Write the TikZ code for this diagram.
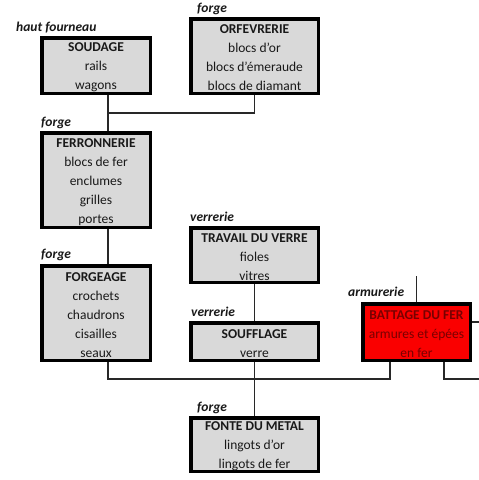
\documentclass[tikz,border=0pt]{standalone}
\usepackage{fontspec}
\setmainfont{Carlito}
\definecolor{boxgray}{RGB}{217,217,217}
\definecolor{txt}{RGB}{25,25,25}
\definecolor{redfill}{RGB}{250,0,0}
\definecolor{redtxt}{RGB}{120,0,0}
\definecolor{linec}{RGB}{40,40,40}
\newcommand{\ttl}[1]{\rule{0pt}{13pt}\textbf{#1}}
\begin{document}
\begin{tikzpicture}[x=1pt,y=-1pt,
  card/.style={draw=black, line width=3.5pt, fill=boxgray, align=center, inner sep=0pt,
    text=txt, font=\fontsize{13.5}{19}\selectfont},
  redcard/.style={card, fill=redfill, text=redtxt},
  tag/.style={anchor=base west, inner sep=0pt, text=txt, font=\fontsize{13.5}{16}\selectfont\bfseries\itshape},
  wire/.style={draw=linec, line width=1.1pt}]
\useasboundingbox (0,0) rectangle (479,480);
\fill[white] (0,0) rectangle (479,480);
% boxes
\node[card, minimum width=108.5, minimum height=55.5] (soud) at (96,65.5) {\ttl{SOUDAGE}\\rails\\wagons};
\node[card, minimum width=127.5, minimum height=74.5] (orfe) at (254.5,56) {\ttl{ORFEVRERIE}\\blocs d'or\\blocs d'émeraude\\blocs de diamant};
\node[card, minimum width=108.5, minimum height=94.5] (ferro) at (96,180) {\ttl{FERRONNERIE}\\blocs de fer\\enclumes\\grilles\\portes};
\node[card, minimum width=127.5, minimum height=54.5] (trav) at (254.5,255) {\ttl{TRAVAIL DU VERRE}\\fioles\\vitres};
\node[card, minimum width=108.5, minimum height=94.5] (forg) at (96,313) {\ttl{FORGEAGE}\\crochets\\chaudrons\\cisailles\\seaux};
\node[card, minimum width=127.5, minimum height=37.5] (souf) at (254.5,341.5) {\ttl{SOUFFLAGE}\\verre};
\node[card, minimum width=127.5, minimum height=53.5] (fonte) at (254.5,444.5) {\ttl{FONTE DU METAL}\\lingots d'or\\lingots de fer};
\node[redcard, minimum width=107.5, minimum height=56.5] (batt) at (416.5,332) {\ttl{BATTAGE DU FER}\\armures et épées\\en fer};
% tags
\node[tag] (t1) at (16,31) {haut fourneau};
\node[tag] (t2) at (197,12.5) {forge};
\node[tag] (t3) at (41,126) {forge};
\node[tag] (t4) at (190,221.5) {verrerie};
\node[tag] (t5) at (41,258.5) {forge};
\node[tag] (t6) at (191,316) {verrerie};
\node[tag] (t7) at (348,296) {armurerie};
\node[tag] (t8) at (197,411.5) {forge};
% helper coordinates
\coordinate (spine) at (108,0);
\coordinate (j1) at (108,113);
\coordinate (bus) at (0,379);
\coordinate (bl) at (390,0);
\coordinate (br) at (444,0);
\coordinate (topend) at (416.5,276);
\coordinate (rightend) at (482,322);
\coordinate (busend) at (482,379);
% connectors
\draw[wire] (soud.south -| spine) -- (ferro.north -| spine);
\draw[wire] (j1) -| (orfe.south);
\draw[wire] (ferro.south -| spine) -- (forg.north -| spine);
\draw[wire] (forg.south -| spine) -- (bus -| spine) -- (bus -| bl) -- (batt.south -| bl);
\draw[wire] (trav.south) -- (souf.north);
\draw[wire] (souf.south) -- (fonte.north);
\draw[wire] (topend) -- (batt.north);
\draw[wire] (batt.east |- rightend) -- (rightend);
\draw[wire] (batt.south -| br) -- (busend -| br) -- (busend);
\end{tikzpicture}
\end{document}
